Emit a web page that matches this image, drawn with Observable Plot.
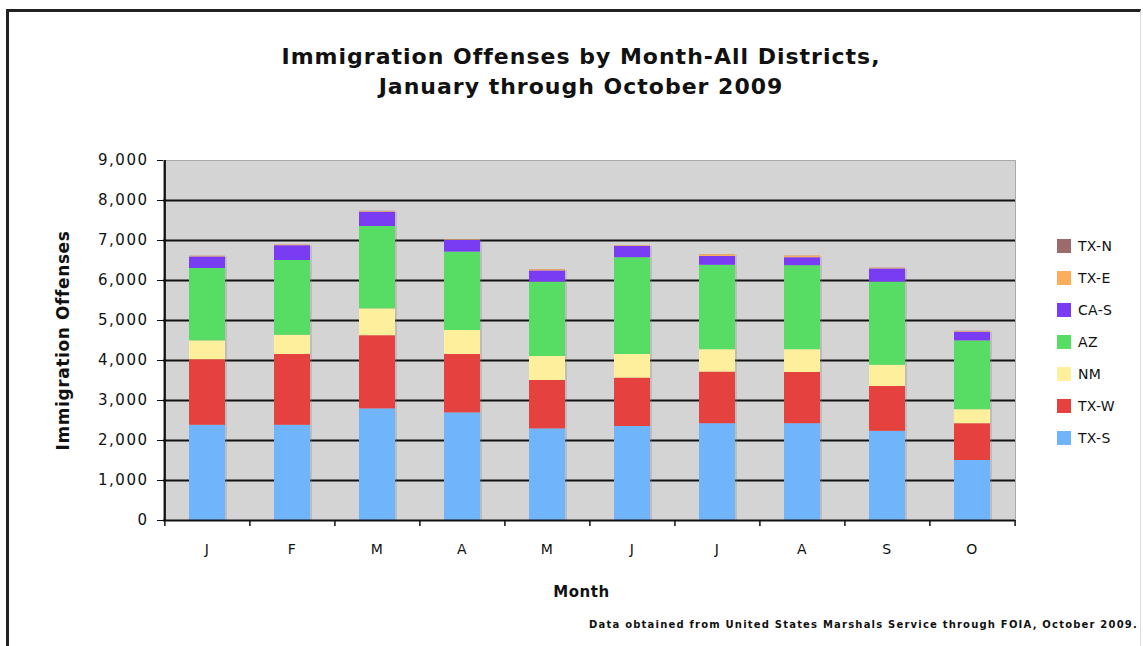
<!DOCTYPE html>
<html>
<head>
<meta charset="utf-8">
<script src="https://cdn.jsdelivr.net/npm/d3@7"></script>
<script src="https://cdn.jsdelivr.net/npm/@observablehq/plot@0.6"></script>
<style>
  html, body { margin: 0; padding: 0; background: #fff; }
  #wrap { position: relative; width: 1143px; height: 646px; overflow: hidden; font-family: "DejaVu Sans", Verdana, sans-serif; }
  #frame { position: absolute; left: 6px; top: 9px; width: 1131px; height: 660px; border-top: 3px solid #222; border-left: 3px solid #222; border-right: 1px solid #ddd; }
  #title { position: absolute; left: 0; top: 42px; width: 1162px; text-align: center; font-family: "DejaVu Sans", sans-serif; font-weight: bold; font-size: 22px; letter-spacing: 1px; line-height: 30px; color: #111; }
  #chart { position: absolute; left: 0; top: 0; }
  #legend { position: absolute; left: 1057px; top: 230px; font-size: 14px; letter-spacing: 0.3px; color: #111; }
  .li { display: flex; align-items: center; height: 32px; }
  .sw { width: 14px; height: 14px; margin-right: 7px; }
  #caption { position: absolute; right: 5px; top: 619px; font-size: 10px; letter-spacing: 1.2px; font-weight: bold; color: #111; white-space: nowrap; }
  svg text { letter-spacing: 1.5px; }
</style>
</head>
<body>
<div id="wrap">
  <div id="frame"></div>
  <div id="chart"></div>
  <div id="title">Immigration Offenses by Month-All Districts,<br>January through October 2009</div>
  <div id="legend"></div>
  <div id="caption">Data obtained from United States Marshals Service through FOIA, October 2009.</div>
</div>
<script>
const months = ["J","F","M","A","M ","J ","J  ","A ","S","O"];
const monthLabels = ["J","F","M","A","M","J","J","A","S","O"];
const districts = ["TX-S","TX-W","NM","AZ","CA-S","TX-E","TX-N"];
const colors = ["#70b4fb","#e5413e","#fdef9b","#58dd64","#7a3cf2","#fcae5c","#9c6a6a"];

const txS  = [2380, 2380, 2790, 2690, 2290, 2350, 2420, 2420, 2230, 1500];
const txW  = [1640, 1770, 1830, 1460, 1210, 1210, 1290, 1280, 1120,  920];
const nm   = [ 470,  480,  670,  600,  600,  590,  560,  570,  530,  350];
const az   = [1810, 1870, 2060, 1960, 1860, 2420, 2110, 2100, 2080, 1720];
const caS  = [ 290,  370,  360,  290,  280,  280,  220,  200,  330,  220];
const txE  = [  15,   15,   15,   15,   30,   15,   45,   40,   15,   15];
const txN  = [   5,    5,    5,    5,    5,    5,    5,    5,    5,    5];
const yTicks = [0,1000,2000,3000,4000,5000,6000,7000,8000,9000];

const series = [txS, txW, nm, az, caS, txE, txN];
const rows = [];
districts.forEach((d, i) => months.forEach((m, j) => rows.push({month: m, district: d, value: series[i][j]})));

const W = 1143, H = 646;
const mL = 163, mR = 128, mT = 160, mB = 126;
const step = (W - mL - mR) / months.length;

const plot = Plot.plot({
  width: W, height: H,
  marginLeft: mL, marginRight: mR, marginTop: mT, marginBottom: mB,
  style: {fontFamily: "DejaVu Sans, Verdana, sans-serif", fontSize: "14px", color: "#111", background: "transparent"},
  x: {domain: months, paddingInner: 0.58, paddingOuter: 0.29, label: null},
  y: {domain: [0, 9000], label: null},
  color: {domain: districts, range: colors},
  marks: [
    Plot.frame({fill: "#d4d4d4", stroke: "#aaa"}),
    Plot.ruleY(yTicks.filter(v => v > 0 && v < 9000), {y: d => d, stroke: "#111", strokeWidth: 2}),
    Plot.barY(rows, {x: "month", y: "value", z: "district", order: districts, dx: 2, dy: 1, fill: "#888", fillOpacity: 0.3}),
    Plot.barY(rows, {x: "month", y: "value", fill: "district", order: districts}),
    Plot.ruleY([0], {stroke: "#111", strokeWidth: 2}),
    Plot.ruleX([months[0]], {dx: -step / 2, y1: 0, y2: 9000, stroke: "#111", strokeWidth: 2}),
    Plot.axisY({ticks: yTicks, tickSize: 6, tickPadding: 9, tickFormat: d3.format(","), stroke: "#111",
      label: "Immigration Offenses", labelAnchor: "center", labelArrow: false, labelOffset: 107,
      fontSize: 15}),
    Plot.ruleX(months, {x: d => d, dx: -step / 2, y1: 0, y2: 0, insetBottom: -6, stroke: "#111", strokeWidth: 1.5}),
    Plot.ruleX(months.slice(-1), {x: d => d, dx: step / 2, y1: 0, y2: 0, insetBottom: -6, stroke: "#111", strokeWidth: 1.5}),
    Plot.axisX({tickSize: 0, tickPadding: 24, tickFormat: (d, i) => monthLabels[i],
      label: "Month", labelAnchor: "center", labelArrow: false, labelOffset: 76, fontSize: 14})
  ]
});
document.getElementById("chart").appendChild(plot);

plot.querySelectorAll("g[aria-label='y-axis label'] text").forEach(t => {
  t.setAttribute("font-weight", "bold");
  t.setAttribute("font-size", "17");
  t.style.letterSpacing = "0.6px";
});
plot.querySelectorAll("g[aria-label='x-axis label'] text").forEach(t => {
  t.setAttribute("font-weight", "bold");
  t.setAttribute("font-size", "15");
  t.style.letterSpacing = "0.6px";
  t.setAttribute("dx", "-8");
});

const legend = document.getElementById("legend");
[...districts].reverse().forEach(d => {
  const i = districts.indexOf(d);
  const el = document.createElement("div");
  el.className = "li";
  el.innerHTML = `<div class="sw" style="background:${colors[i]}"></div><span>${d}</span>`;
  legend.appendChild(el);
});
</script>
</body>
</html>
